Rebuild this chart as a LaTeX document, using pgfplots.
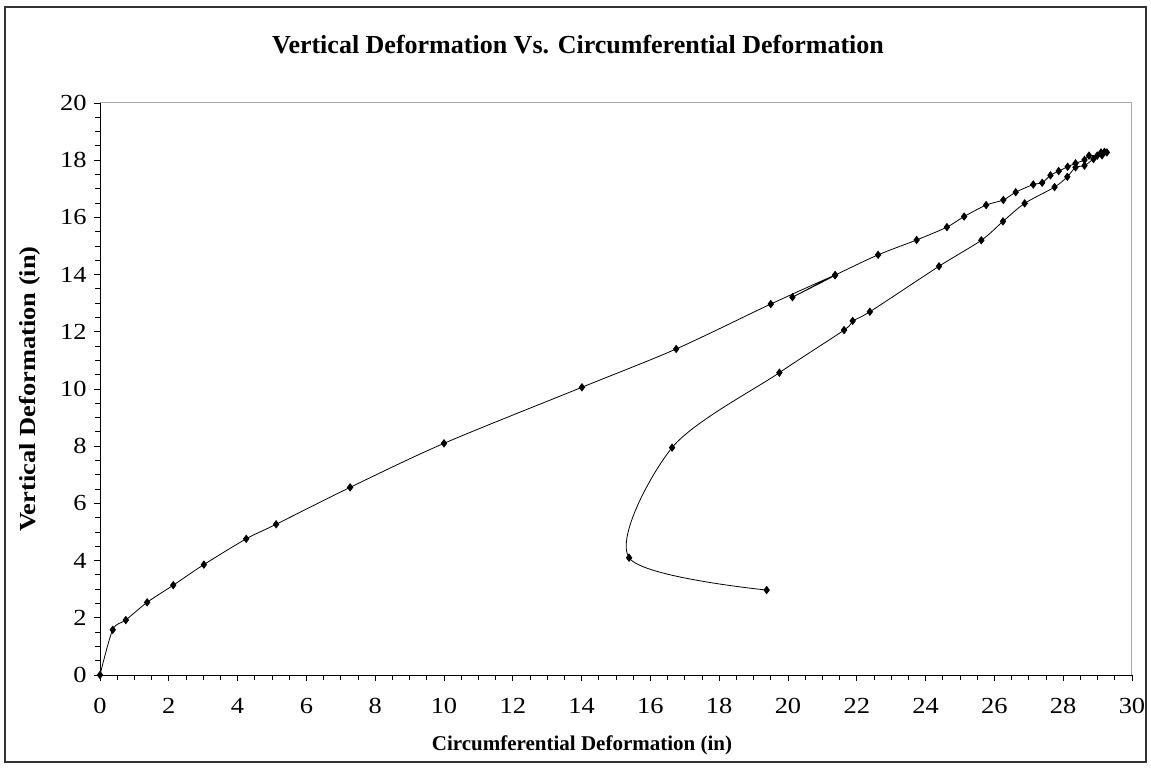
\documentclass[border=0pt]{standalone}
\usepackage{fontspec}
\setmainfont{Liberation Serif}
\newfontfamily\widefont[FakeStretch=1.15]{Liberation Serif}
\usepackage{pgfplots}
\pgfplotsset{compat=1.18}

% upper branch (loading) then lower branch (unloading)
\pgfplotstableread{
x y
0 0
0.37 1.58
0.75 1.92
1.37 2.54
2.13 3.14
3.02 3.86
4.25 4.76
5.12 5.27
7.27 6.56
10.0 8.10
14.01 10.06
16.75 11.40
19.50 12.97
21.37 13.98
20.13 13.21
21.37 13.98
22.62 14.69
23.74 15.21
24.62 15.66
25.12 16.03
25.76 16.43
26.26 16.61
26.62 16.88
27.13 17.15
27.39 17.21
27.63 17.47
27.87 17.62
28.13 17.77
28.36 17.89
28.62 18.01
28.75 18.16
28.99 18.16
29.10 18.27
29.20 18.29
29.27 18.27
29.13 18.17
28.88 18.04
28.62 17.81
28.36 17.75
28.12 17.42
27.75 17.06
26.88 16.49
26.25 15.86
25.62 15.20
24.39 14.29
22.38 12.70
21.88 12.38
21.63 12.06
19.75 10.57
16.63 7.95
15.38 4.10
19.38 2.97
}\deform

\begin{document}
\begin{tikzpicture}[x=1bp,y=1bp]
\useasboundingbox (0,0) rectangle (1151,769);
\draw[line width=1.2bp,black!80] (5,7) rectangle (1146,762);

\begin{axis}[
    at={(100bp,94bp)}, anchor=south west,
    scale only axis,
    width=1032bp, height=572bp,
    xmin=0, xmax=30, ymin=0, ymax=20,
    xtick distance=2, ytick distance=2,
    minor tick num=3,
    axis lines*=left,
    axis line style={-, line width=0.9bp},
    tick align=outside,
    major tick length=6bp, minor tick length=5bp,
    tick style={black, line width=0.8bp},
    /pgf/number format/assume math mode=true,
    tick label style={font=\widefont\fontsize{23bp}{27bp}\selectfont},
    xticklabel style={yshift=-14bp},
    yticklabel style={xshift=-4bp},
    clip=false,
    after end axis/.code={
        \draw[gray!70, line width=1bp] (rel axis cs:0,1) -- (rel axis cs:1,1) -- (rel axis cs:1,0);
    },
  ]
  \addplot[black, line width=0.8bp, smooth, mark=diamond*, mark size=3.6bp,
    mark options={solid, fill=black}] table {\deform};
\end{axis}

\node[font=\fontsize{26bp}{30bp}\selectfont\bfseries] at (578,724) {Vertical Deformation Vs. Circumferential Deformation};
\node[font=\fontsize{21bp}{25bp}\selectfont\bfseries] at (582,24) {Circumferential Deformation (in)};
\node[font=\widefont\fontsize{23bp}{27bp}\selectfont\bfseries, rotate=90] at (30,380) {Vertical Deformation (in)};
\end{tikzpicture}
\end{document}
